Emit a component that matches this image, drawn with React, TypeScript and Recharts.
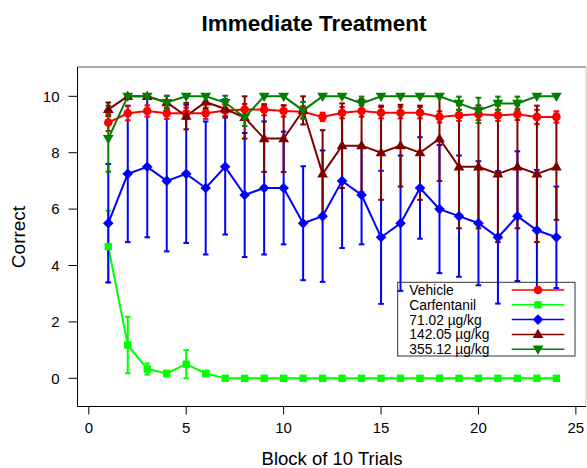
import React from 'react';
import { ComposedChart, Line, XAxis, YAxis, ErrorBar, ReferenceLine } from 'recharts';

const blocks = [1, 2, 3, 4, 5, 6, 7, 8, 9, 10, 11, 12, 13, 14, 15, 16, 17, 18, 19, 20, 21, 22, 23, 24];

const vehicle = [9.07, 9.4, 9.48, 9.4, 9.4, 9.4, 9.5, 9.53, 9.53, 9.48, 9.45, 9.27, 9.42, 9.48, 9.42, 9.42, 9.42, 9.27, 9.33, 9.36, 9.33, 9.36, 9.27, 9.27];
const vehicleErr = [0.3, 0.25, 0.2, 0.2, 0.2, 0.2, 0.2, 0.2, 0.2, 0.2, 0.2, 0.15, 0.2, 0.2, 0.2, 0.2, 0.2, 0.2, 0.2, 0.2, 0.2, 0.2, 0.25, 0.2];

const carfentanil = [4.67, 1.18, 0.33, 0.17, 0.5, 0.17, 0, 0, 0, 0, 0, 0, 0, 0, 0, 0, 0, 0, 0, 0, 0, 0, 0, 0];
const carfentanilErr = [1.27, 1.0, 0.2, 0.1, 0.5, 0.1, 0, 0, 0, 0, 0, 0, 0, 0, 0, 0, 0, 0, 0, 0, 0, 0, 0, 0];

const dose71 = [5.5, 7.25, 7.5, 7.0, 7.25, 6.75, 7.5, 6.5, 6.75, 6.75, 5.5, 5.75, 7.0, 6.5, 5.0, 5.5, 6.75, 6.0, 5.75, 5.5, 5.0, 5.75, 5.25, 5.0];
const dose71Err = [2.1, 2.42, 2.5, 2.5, 2.45, 2.36, 2.4, 2.2, 2.36, 2.0, 2.02, 2.33, 2.38, 1.75, 2.36, 2.4, 1.8, 2.27, 2.15, 2.2, 2.35, 2.3, 2.14, 1.8];

const dose142 = [9.54, 10, 10, 9.78, 9.3, 9.8, 9.55, 9.25, 8.5, 8.5, 9.5, 7.25, 8.25, 8.25, 8.0, 8.25, 8.0, 8.5, 7.5, 7.5, 7.25, 7.5, 7.25, 7.5];
const dose142Err = [0.24, 0, 0, 0.24, 0.47, 0.25, 0.3, 0.75, 1.18, 1.18, 0.5, 1.55, 1.5, 1.65, 1.67, 1.45, 1.67, 1.5, 2.18, 2.18, 2.42, 2.18, 2.42, 1.88];

const dose355 = [8.5, 10, 10, 9.78, 10, 10, 9.78, 9.25, 10, 10, 9.5, 10, 10, 9.75, 10, 10, 10, 10, 9.75, 9.5, 9.75, 9.75, 10, 10];
const dose355Err = [1.17, 0, 0, 0.24, 0, 0, 0.24, 0.3, 0, 0, 0.3, 0, 0, 0.24, 0, 0, 0, 0, 0.24, 0.45, 0.24, 0.24, 0, 0];

const xTicks = [0, 5, 10, 15, 20, 25];
const yTicks = [0, 2, 4, 6, 8, 10];

const data = blocks.map((b, i) => ({
  block: b,
  vehicle: vehicle[i],
  vehicleErr: vehicleErr[i],
  carfentanil: carfentanil[i],
  carfentanilErr: carfentanilErr[i],
  dose71: dose71[i],
  dose71Err: dose71Err[i],
  dose142: dose142[i],
  dose142Err: dose142Err[i],
  dose355: dose355[i],
  dose355Err: dose355Err[i],
}));

type Kind = 'circle' | 'square' | 'diamond' | 'triangle' | 'triangleDown';

interface SeriesDef {
  key: string;
  name: string;
  color: string;
  kind: Kind;
}

const legendOrder: SeriesDef[] = [
  { key: 'vehicle', name: 'Vehicle', color: '#FF0000', kind: 'circle' },
  { key: 'carfentanil', name: 'Carfentanil', color: '#00FF00', kind: 'square' },
  { key: 'dose71', name: '71.02 µg/kg', color: '#0000FF', kind: 'diamond' },
  { key: 'dose142', name: '142.05 µg/kg', color: '#800000', kind: 'triangle' },
  { key: 'dose355', name: '355.12 µg/kg', color: '#008000', kind: 'triangleDown' },
];

const drawOrder = ['carfentanil', 'dose71', 'vehicle', 'dose142', 'dose355'].map(
  (k) => legendOrder.find((s) => s.key === k) as SeriesDef
);

const FONT = '"Liberation Sans", Arial, Helvetica, sans-serif';

function Marker({ kind, cx, cy, color }: { kind: Kind; cx: number; cy: number; color: string }) {
  switch (kind) {
    case 'circle':
      return <circle cx={cx} cy={cy} r={4.3} fill={color} />;
    case 'square':
      return <rect x={cx - 3.7} y={cy - 3.7} width={7.4} height={7.4} fill={color} />;
    case 'diamond':
      return <polygon points={`${cx},${cy - 5.3} ${cx + 5.3},${cy} ${cx},${cy + 5.3} ${cx - 5.3},${cy}`} fill={color} />;
    case 'triangle':
      return <polygon points={`${cx},${cy - 5.6} ${cx + 5.4},${cy + 3.6} ${cx - 5.4},${cy + 3.6}`} fill={color} />;
    case 'triangleDown':
    default:
      return <polygon points={`${cx},${cy + 5.6} ${cx + 5.4},${cy - 3.6} ${cx - 5.4},${cy - 3.6}`} fill={color} />;
  }
}

const makeDot = (kind: Kind, color: string) => (props: any) => {
  const { cx, cy, index } = props;
  if (cx == null || cy == null) return <g key={`${kind}-e-${index}`} />;
  return (
    <g key={`${kind}-${index}`}>
      <Marker kind={kind} cx={cx} cy={cy} color={color} />
    </g>
  );
};

export default function App() {
  return (
    <div style={{ position: 'absolute', left: 0, top: 0, width: 587, height: 468, background: '#fff', fontFamily: FONT }}>
      <ComposedChart width={587} height={468} data={data} margin={{ top: 67, right: 1, bottom: 0, left: 0 }}>
        <XAxis
          type="number"
          dataKey="block"
          domain={[-0.58, 25.52]}
          ticks={xTicks}
          interval={0}
          allowDataOverflow
          height={61.5}
          tickSize={8}
          tickMargin={8}
          axisLine={{ stroke: '#000', strokeWidth: 1 }}
          tickLine={{ stroke: '#000', strokeWidth: 1 }}
          tick={{ fill: '#000', fontSize: 15, fontFamily: FONT }}
        />
        <YAxis
          type="number"
          domain={[-1, 11.04]}
          ticks={yTicks}
          interval={0}
          allowDataOverflow
          width={77.5}
          tickSize={9}
          tickMargin={9}
          axisLine={{ stroke: '#000', strokeWidth: 1 }}
          tickLine={{ stroke: '#000', strokeWidth: 1 }}
          tick={{ fill: '#000', fontSize: 15, fontFamily: FONT }}
        />
        <ReferenceLine y={11.04} stroke="#555" strokeWidth={1} ifOverflow="visible" />
        <ReferenceLine x={25.52} stroke="#c8c8c8" strokeWidth={1} ifOverflow="visible" />
        {drawOrder.map((s) => (
          <Line
            key={s.key}
            type="linear"
            dataKey={s.key}
            name={s.name}
            stroke={s.color}
            strokeWidth={2}
            dot={makeDot(s.kind, s.color)}
            activeDot={false}
            isAnimationActive={false}
          >
            <ErrorBar dataKey={`${s.key}Err`} direction="y" width={2.8} stroke={s.color} strokeWidth={2} isAnimationActive={false} />
          </Line>
        ))}
      </ComposedChart>
      <svg width={587} height={468} style={{ position: 'absolute', left: 0, top: 0, pointerEvents: 'none' }}>
        <text x={314} y={31} textAnchor="middle" fontSize={22.5} fontWeight="bold" fontFamily={FONT} fill="#000">
          Immediate Treatment
        </text>
        <text x={332} y={465} textAnchor="middle" fontSize={18.5} fontFamily={FONT} fill="#000">
          Block of 10 Trials
        </text>
        <text transform="translate(25,237) rotate(-90)" textAnchor="middle" fontSize={19} fontFamily={FONT} fill="#000">
          Correct
        </text>
        <rect x={397.7} y={282.3} width={177.3} height={73.7} fill="none" stroke="#333" strokeWidth={1} />
        {legendOrder.map((s, i) => {
          const cy = 290 + i * 14.8;
          return (
            <g key={s.key}>
              <text x={409.3} y={cy + 4.9} fontSize={13.8} fontFamily={FONT} fill="#000">
                {s.name}
              </text>
              <line x1={511.7} y1={cy} x2={564.3} y2={cy} stroke={s.color} strokeWidth={1.5} />
              <Marker kind={s.kind} cx={538} cy={cy} color={s.color} />
            </g>
          );
        })}
      </svg>
    </div>
  );
}
